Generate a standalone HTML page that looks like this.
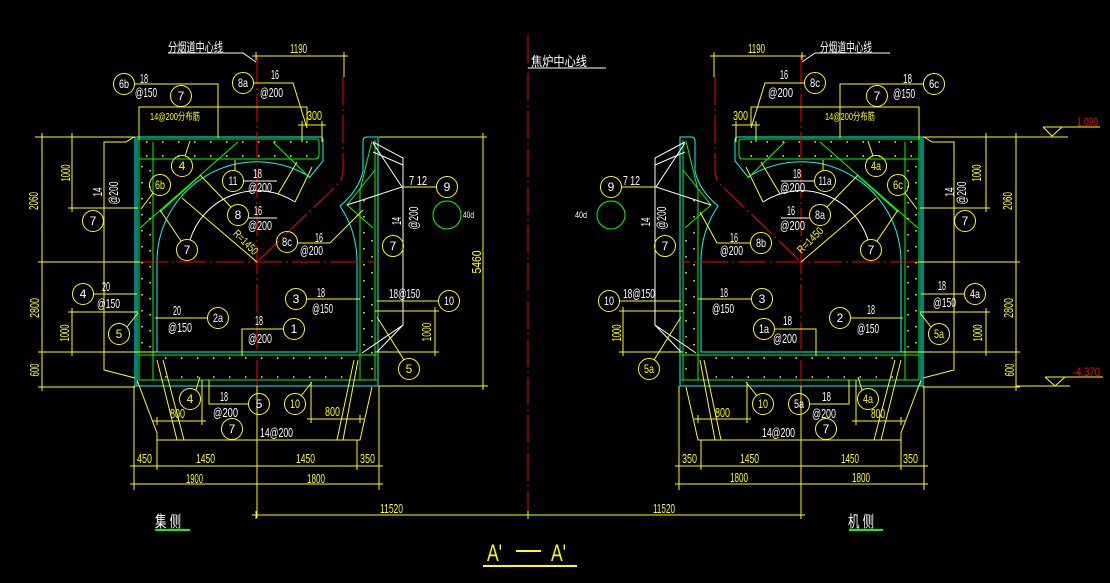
<!DOCTYPE html>
<html><head><meta charset="utf-8">
<style>
html,body{margin:0;padding:0;background:#000;}
svg{display:block}
text{font-family:"Liberation Sans","Noto Sans CJK SC",sans-serif;font-size:13px;}
.w{fill:#fff}.y{fill:#ff0}.r{fill:#f00}
.c{font-size:12px;text-anchor:middle}
</style></head><body>
<svg width="1110" height="583" viewBox="0 0 1110 583" xmlns="http://www.w3.org/2000/svg">
<rect width="1110" height="583" fill="#000"/>

<g id="L" fill="none" stroke-width="1">
  <!-- cyan concrete outline -->
  <path stroke="#0ff" d="M135,386 L135,137 L320,137 Q323,137 323,140 L323,161 L310,177 A100,100 0 0 0 157,262 L157,352 L357,352 L357,262 A100,100 0 0 0 340,206 Q359,190 363,171 L363,141 Q363,137 367,137 L378,137 L378,386 Z"/>
  <path stroke="#0ff" d="M137,138 L137,386"/>
  <!-- green rebars -->
  <path stroke="#0f0" d="M139,380 L139,139 L316,139 Q319,139 319,142 L319,155 Q319,159 315,159 L139,159 M153,142 L153,380 M139,355 L377,355 M139,380 L377,380 M375,140 L375,380 M360,190 L360,380 M372,141 L360,190 M375,170 L347,205 L373,228 M140,228 L238,142 M273,142 L310,178 M160,212 L200,176"/>
  <circle cx="447" cy="215" r="14" stroke="#0f0"/>
  <!-- white -->
  <path stroke="#fff" d="M190,240 A70,70 0 0 1 295,202 M373,142 L403,158 L403,325 L362,353 M403,325 L377,352 M373,143 L402,187 L347,205 M373,152 L403,165 M168,53 L243,53 L256,62"/>
  <!-- red centre lines -->
  <path stroke="#f00" stroke-dasharray="28 4 2 4" d="M257,56 L257,388 M140,262 L378,262 M343,77 L343,170 Q343,180 336,186 L257,262"/>
  <!-- yellow lines -->
  <path stroke="#ff0" d="
M257,56 L344,56 M344,52 L344,77
M139,140 L139,107 L307,107 L307,125
M134.5,84 L218,84 L218,138
M253.5,83 L293,83 L307,128
M300,125 L324,125 M302,121 L302,142 M322,121 L322,142
M185,156 L190,141
M235,170.5 L235,160
M153,193 L141,209
M231,207 L200,175
M181,241 L160,210
M257,262 L182,198
M278,194 L297,162 M295,202 L312,167
M42,137 L42,387 M35,137 L135,137 M38,262 L140,262 M38,352 L157,352 M38,387 L135,387
M72,137 L72,208 M68,208 L138,208 M72,312 L72,352 M68,312 L138,312
M134,137 L126,142 L104,142 L104,370 L135,378
M93.5,294 L137,294
M127,327 L138,313
M155,318 L207.5,318
M283.5,329 L242,329 L242,356
M306.5,299 L360,299
M196,390 L200,377
M248.5,404 L209,404 L209,380
M301,396 L312,382
M157,421 L202,421 M202,380 L202,424
M311,419 L360,419 M311,382 L311,422
M137,380 L157,433 L157,440 L360,440 L372,387
M157,360 L177,440 M163,360 L184,440 M354,360 L337,440 M358,360 L343,440
M257,386 L257,518
M134,466 L379,466 M134,484 L379,484 M134,386 L134,490 M157,440 L157,470 M357,440 L357,470 M379,386 L379,490
M377,301 L438.5,301
M375,311 L438,311 M375,352 L438,352 M435,311 L435,352
M404,360 L377,317
M403,187 L436.5,187
M252,56h8M256,52v8 M340,56h8M344,52v8
M298,125h8M302,121v8 M318,125h8M322,121v8
M130,466h8M134,462v8 M153,466h8M157,462v8 M253,466h8M257,462v8 M353,466h8M357,462v8 M375,466h8M379,462v8
M130,484h8M134,480v8 M253,484h8M257,480v8 M375,484h8M379,480v8
M153,421h8M157,417v8 M198,421h8M202,417v8
M307,419h8M311,415v8 M356,419h8M360,415v8
M38,137h8M42,133v8 M38,262h8M42,258v8 M38,352h8M42,348v8 M38,387h8M42,383v8
M68,137h8M72,133v8 M68,208h8M72,204v8 M68,312h8M72,308v8 M68,352h8M72,348v8
M431,311h8M435,307v8 M431,352h8M435,348v8"/>
  <!-- distribution bar dots -->
  <path stroke="#ff0" stroke-width="1.5" stroke-dasharray="1.5 14.5" d="M146,142 L316,142 M146,156 L316,156 M142,166 L142,350 M150,170 L150,350 M165,358 L355,358 M165,377 L355,377 M364,200 L364,350 M372,240 L372,375"/>
  <!-- bubbles -->
  <g stroke="#ff0">
    <circle cx="124" cy="84" r="10.5"/><circle cx="181" cy="96" r="10.5"/><circle cx="243" cy="83" r="10.5"/>
    <circle cx="182" cy="166" r="10.5"/><circle cx="233" cy="181" r="10.5"/><circle cx="160" cy="185" r="10.5"/>
    <circle cx="238" cy="215" r="10.5"/><circle cx="187" cy="250" r="10.5"/><circle cx="93" cy="221" r="10.5"/>
    <circle cx="447" cy="187" r="10.5"/><circle cx="393" cy="246" r="10.5"/><circle cx="83" cy="294" r="10.5"/>
    <circle cx="119" cy="334" r="10.5"/><circle cx="218" cy="318" r="10.5"/><circle cx="296" cy="299" r="10.5"/>
    <circle cx="294" cy="329" r="10.5"/><circle cx="449" cy="301" r="10.5"/><circle cx="409" cy="369" r="10.5"/>
    <circle cx="190" cy="399" r="10.5"/><circle cx="259" cy="404" r="10.5"/><circle cx="295" cy="404" r="10.5"/>
    <circle cx="232" cy="429" r="10.5"/>
  </g>
  <path stroke="#fff" d="M243.5,181 L277,181 M248.5,218 L277,218"/>
</g>
<use href="#L" transform="matrix(-1 0 0 1 1058 0)"/>

<!-- non mirrored geometry -->
<g fill="none" stroke-width="1">
  <path stroke="#f00" stroke-dasharray="28 4 2 4" d="M528,35 L528,520"/>
  <path stroke="#fff" d="M528,68 L606,68"/>
  <path stroke="#ff0" d="M379,137 L486,137 M379,386 L488,386 M483,137 L483,386 M479,137h8M483,133v8 M479,386h8M483,382v8
  M256,515 L801,515 M252,515h8M256,511v8 M524,515h8M528,511v8 M797,515h8M801,511v8
  M297.5,243 L330,243 L363,210 M750.5,243 L717,243 L700,212
  M1043,127 L1100,127 M1043,127 L1052,136 L1062,127 M1016,137 L1068,137
  M1045,377 L1103,377 M1045,377 L1055,386 L1065,377 M1016,386 L1070,386"/>
  <circle cx="287" cy="242" r="10.5" stroke="#ff0"/>
  <circle cx="761" cy="243" r="10.5" stroke="#ff0"/>
  <path stroke="#0f0" stroke-width="2" d="M155,530 L190,530 M849,530 L883,530"/>
  <path stroke="#ff0" stroke-width="2" d="M483,566 L577,566 M516,551 L541,551"/>
</g>

<!-- ===== LEFT TEXT ===== -->
<text class="w" x="168" y="52" textLength="55" lengthAdjust="spacingAndGlyphs">分烟道中心线</text>
<text class="y" x="290" y="53" textLength="17" lengthAdjust="spacingAndGlyphs">1190</text>
<text class="w" x="140" y="83" textLength="8" lengthAdjust="spacingAndGlyphs">18</text>
<text class="w" x="135" y="97" textLength="22" lengthAdjust="spacingAndGlyphs">@150</text>
<text class="w" x="271" y="79" textLength="8" lengthAdjust="spacingAndGlyphs">16</text>
<text class="w" x="260" y="97" textLength="23" lengthAdjust="spacingAndGlyphs">@200</text>
<text class="y" x="150" y="120" textLength="50" lengthAdjust="spacingAndGlyphs" style="font-size:10px">14@200分布筋</text>
<text class="y" x="307" y="120" textLength="15" lengthAdjust="spacingAndGlyphs">300</text>
<text class="w" x="253" y="178" textLength="9" lengthAdjust="spacingAndGlyphs">18</text>
<text class="w" x="248" y="192" textLength="24" lengthAdjust="spacingAndGlyphs">@200</text>
<text class="w" x="254" y="215" textLength="8" lengthAdjust="spacingAndGlyphs">16</text>
<text class="w" x="248" y="230" textLength="24" lengthAdjust="spacingAndGlyphs">@200</text>
<text class="w" x="315" y="242" textLength="8" lengthAdjust="spacingAndGlyphs">16</text>
<text class="w" x="300" y="255" textLength="23" lengthAdjust="spacingAndGlyphs">@200</text>
<text class="y" x="246" y="246" text-anchor="middle" textLength="30" lengthAdjust="spacingAndGlyphs" transform="rotate(45 246 242)" style="font-size:11px">R=1450</text>
<text class="y" x="66" y="177" text-anchor="middle" textLength="17" lengthAdjust="spacingAndGlyphs" transform="rotate(-90 66 173)">1000</text>
<text class="y" x="34" y="205" text-anchor="middle" textLength="18" lengthAdjust="spacingAndGlyphs" transform="rotate(-90 34 201)">2060</text>
<text class="w" x="98" y="196" text-anchor="middle" textLength="9" lengthAdjust="spacingAndGlyphs" transform="rotate(-90 98 192)">14</text>
<text class="w" x="114" y="197" text-anchor="middle" textLength="23" lengthAdjust="spacingAndGlyphs" transform="rotate(-90 114 193)">@200</text>
<text class="w" x="102" y="291" textLength="8" lengthAdjust="spacingAndGlyphs">20</text>
<text class="w" x="97" y="308" textLength="23" lengthAdjust="spacingAndGlyphs">@150</text>
<text class="y" x="35" y="312" text-anchor="middle" textLength="20" lengthAdjust="spacingAndGlyphs" transform="rotate(-90 35 308)">2800</text>
<text class="y" x="65" y="337" text-anchor="middle" textLength="17" lengthAdjust="spacingAndGlyphs" transform="rotate(-90 65 333)">1000</text>
<text class="y" x="35" y="374" text-anchor="middle" textLength="13" lengthAdjust="spacingAndGlyphs" transform="rotate(-90 35 370)">600</text>
<text class="w" x="173" y="315" textLength="8" lengthAdjust="spacingAndGlyphs">20</text>
<text class="w" x="168" y="332" textLength="24" lengthAdjust="spacingAndGlyphs">@150</text>
<text class="w" x="255" y="325" textLength="8" lengthAdjust="spacingAndGlyphs">18</text>
<text class="w" x="248" y="343" textLength="24" lengthAdjust="spacingAndGlyphs">@200</text>
<text class="w" x="317" y="297" textLength="8" lengthAdjust="spacingAndGlyphs">18</text>
<text class="w" x="312" y="313" textLength="21" lengthAdjust="spacingAndGlyphs">@150</text>
<text class="y" x="170" y="418" textLength="15" lengthAdjust="spacingAndGlyphs">800</text>
<text class="w" x="220" y="401" textLength="8" lengthAdjust="spacingAndGlyphs">18</text>
<text class="w" x="213" y="417" textLength="25" lengthAdjust="spacingAndGlyphs">@200</text>
<text class="w" x="260" y="437" textLength="33" lengthAdjust="spacingAndGlyphs">14@200</text>
<text class="y" x="325" y="416" textLength="15" lengthAdjust="spacingAndGlyphs">800</text>
<text class="y" x="137" y="463" textLength="15" lengthAdjust="spacingAndGlyphs">450</text>
<text class="y" x="196" y="463" textLength="19" lengthAdjust="spacingAndGlyphs">1450</text>
<text class="y" x="296" y="463" textLength="19" lengthAdjust="spacingAndGlyphs">1450</text>
<text class="y" x="360" y="463" textLength="15" lengthAdjust="spacingAndGlyphs">350</text>
<text class="y" x="186" y="483" textLength="17" lengthAdjust="spacingAndGlyphs">1900</text>
<text class="y" x="307" y="483" textLength="18" lengthAdjust="spacingAndGlyphs">1800</text>
<text class="y" x="477" y="266" text-anchor="middle" textLength="23" lengthAdjust="spacingAndGlyphs" transform="rotate(-90 477 262)">5460</text>
<text class="y" x="427" y="336" text-anchor="middle" textLength="19" lengthAdjust="spacingAndGlyphs" transform="rotate(-90 427 332)">1000</text>
<text class="w" x="389" y="298" textLength="31" lengthAdjust="spacingAndGlyphs">18@150</text>
<text class="w" x="409" y="185" textLength="18" lengthAdjust="spacingAndGlyphs">7 12</text>
<text class="w" x="397" y="225" text-anchor="middle" textLength="8" lengthAdjust="spacingAndGlyphs" transform="rotate(-90 397 221)">14</text>
<text class="w" x="414" y="222" text-anchor="middle" textLength="23" lengthAdjust="spacingAndGlyphs" transform="rotate(-90 414 218)">@200</text>
<text class="w" x="463" y="218" textLength="11" lengthAdjust="spacingAndGlyphs" style="font-size:9px">40d</text>
<text class="y" x="380" y="513" textLength="23" lengthAdjust="spacingAndGlyphs">11520</text>
<text class="y" x="653" y="513" textLength="22" lengthAdjust="spacingAndGlyphs">11520</text>
<text class="w" x="155" y="527" textLength="26" lengthAdjust="spacingAndGlyphs" style="font-size:16px">集 侧</text>
<text class="w" x="531" y="66" textLength="56" lengthAdjust="spacingAndGlyphs">焦炉中心线</text>
<text class="y" x="487" y="561" textLength="15" lengthAdjust="spacingAndGlyphs" style="font-size:24px">A'</text>
<text class="y" x="551" y="561" textLength="15" lengthAdjust="spacingAndGlyphs" style="font-size:24px">A'</text>

<!-- left bubble labels -->
<text class="w c" x="124" y="88" textLength="10" lengthAdjust="spacingAndGlyphs">6b</text>
<text class="w c" x="181" y="100">7</text>
<text class="w c" x="243" y="87" textLength="10" lengthAdjust="spacingAndGlyphs">8a</text>
<text class="y c" x="182" y="170">4</text>
<text class="w c" x="233" y="185" textLength="9" lengthAdjust="spacingAndGlyphs">11</text>
<text class="y c" x="160" y="189" textLength="10" lengthAdjust="spacingAndGlyphs">6b</text>
<text class="w c" x="238" y="219">8</text>
<text class="w c" x="187" y="254">7</text>
<text class="w c" x="287" y="246" textLength="10" lengthAdjust="spacingAndGlyphs">8c</text>
<text class="w c" x="93" y="225">7</text>
<text class="w c" x="447" y="191">9</text>
<text class="w c" x="393" y="250">7</text>
<text class="w c" x="83" y="298">4</text>
<text class="y c" x="119" y="338">5</text>
<text class="w c" x="218" y="322" textLength="10" lengthAdjust="spacingAndGlyphs">2a</text>
<text class="w c" x="296" y="303">3</text>
<text class="w c" x="294" y="333">1</text>
<text class="w c" x="449" y="305" textLength="10" lengthAdjust="spacingAndGlyphs">10</text>
<text class="y c" x="409" y="373">5</text>
<text class="y c" x="190" y="403">4</text>
<text class="w c" x="259" y="408">5</text>
<text class="y c" x="295" y="408" textLength="10" lengthAdjust="spacingAndGlyphs">10</text>
<text class="w c" x="232" y="433">7</text>

<!-- ===== RIGHT TEXT ===== -->
<text class="w" x="820" y="52" textLength="52" lengthAdjust="spacingAndGlyphs">分烟道中心线</text>
<text class="y" x="748" y="53" textLength="17" lengthAdjust="spacingAndGlyphs">1190</text>
<text class="w" x="780" y="79" textLength="8" lengthAdjust="spacingAndGlyphs">16</text>
<text class="w" x="768" y="97" textLength="25" lengthAdjust="spacingAndGlyphs">@200</text>
<text class="y" x="733" y="120" textLength="15" lengthAdjust="spacingAndGlyphs">300</text>
<text class="y" x="825" y="120" textLength="50" lengthAdjust="spacingAndGlyphs" style="font-size:10px">14@200分布筋</text>
<text class="w" x="903" y="83" textLength="9" lengthAdjust="spacingAndGlyphs">18</text>
<text class="w" x="893" y="98" textLength="22" lengthAdjust="spacingAndGlyphs">@150</text>
<text class="w" x="623" y="185" textLength="17" lengthAdjust="spacingAndGlyphs">7 12</text>
<text class="w" x="575" y="218" textLength="12" lengthAdjust="spacingAndGlyphs" style="font-size:9px">40d</text>
<text class="w" x="646" y="226" text-anchor="middle" textLength="9" lengthAdjust="spacingAndGlyphs" transform="rotate(-90 646 222)">14</text>
<text class="w" x="662" y="222" text-anchor="middle" textLength="23" lengthAdjust="spacingAndGlyphs" transform="rotate(-90 662 218)">@200</text>
<text class="w" x="730" y="242" textLength="8" lengthAdjust="spacingAndGlyphs">16</text>
<text class="w" x="720" y="255" textLength="23" lengthAdjust="spacingAndGlyphs">@200</text>
<text class="w" x="793" y="178" textLength="8" lengthAdjust="spacingAndGlyphs">18</text>
<text class="w" x="780" y="192" textLength="25" lengthAdjust="spacingAndGlyphs">@200</text>
<text class="w" x="787" y="215" textLength="8" lengthAdjust="spacingAndGlyphs">16</text>
<text class="w" x="780" y="230" textLength="25" lengthAdjust="spacingAndGlyphs">@200</text>
<text class="y" x="810" y="244" text-anchor="middle" textLength="32" lengthAdjust="spacingAndGlyphs" transform="rotate(-45 810 240)" style="font-size:11px">R=1450</text>
<text class="y" x="977" y="177" text-anchor="middle" textLength="17" lengthAdjust="spacingAndGlyphs" transform="rotate(-90 977 173)">1000</text>
<text class="y" x="1008" y="205" text-anchor="middle" textLength="18" lengthAdjust="spacingAndGlyphs" transform="rotate(-90 1008 201)">2060</text>
<text class="w" x="950" y="196" text-anchor="middle" textLength="9" lengthAdjust="spacingAndGlyphs" transform="rotate(-90 950 192)">14</text>
<text class="w" x="962" y="197" text-anchor="middle" textLength="23" lengthAdjust="spacingAndGlyphs" transform="rotate(-90 962 193)">@200</text>
<text class="w" x="623" y="298" textLength="32" lengthAdjust="spacingAndGlyphs">18@150</text>
<text class="w" x="720" y="297" textLength="8" lengthAdjust="spacingAndGlyphs">18</text>
<text class="w" x="712" y="313" textLength="22" lengthAdjust="spacingAndGlyphs">@150</text>
<text class="w" x="783" y="325" textLength="9" lengthAdjust="spacingAndGlyphs">18</text>
<text class="w" x="773" y="343" textLength="24" lengthAdjust="spacingAndGlyphs">@200</text>
<text class="y" x="617" y="337" text-anchor="middle" textLength="17" lengthAdjust="spacingAndGlyphs" transform="rotate(-90 617 333)">1000</text>
<text class="w" x="867" y="314" textLength="8" lengthAdjust="spacingAndGlyphs">18</text>
<text class="w" x="857" y="333" textLength="22" lengthAdjust="spacingAndGlyphs">@150</text>
<text class="w" x="938" y="290" textLength="8" lengthAdjust="spacingAndGlyphs">18</text>
<text class="w" x="933" y="307" textLength="23" lengthAdjust="spacingAndGlyphs">@150</text>
<text class="y" x="1009" y="312" text-anchor="middle" textLength="20" lengthAdjust="spacingAndGlyphs" transform="rotate(-90 1009 308)">2800</text>
<text class="y" x="978" y="337" text-anchor="middle" textLength="17" lengthAdjust="spacingAndGlyphs" transform="rotate(-90 978 333)">1000</text>
<text class="y" x="1010" y="374" text-anchor="middle" textLength="13" lengthAdjust="spacingAndGlyphs" transform="rotate(-90 1010 370)">600</text>
<text class="y" x="715" y="417" textLength="15" lengthAdjust="spacingAndGlyphs">800</text>
<text class="w" x="822" y="401" textLength="9" lengthAdjust="spacingAndGlyphs">18</text>
<text class="w" x="812" y="418" textLength="24" lengthAdjust="spacingAndGlyphs">@200</text>
<text class="w" x="762" y="437" textLength="33" lengthAdjust="spacingAndGlyphs">14@200</text>
<text class="y" x="871" y="418" textLength="14" lengthAdjust="spacingAndGlyphs">800</text>
<text class="y" x="682" y="463" textLength="15" lengthAdjust="spacingAndGlyphs">350</text>
<text class="y" x="740" y="463" textLength="19" lengthAdjust="spacingAndGlyphs">1450</text>
<text class="y" x="841" y="463" textLength="18" lengthAdjust="spacingAndGlyphs">1450</text>
<text class="y" x="903" y="463" textLength="15" lengthAdjust="spacingAndGlyphs">350</text>
<text class="y" x="730" y="482" textLength="18" lengthAdjust="spacingAndGlyphs">1800</text>
<text class="y" x="852" y="482" textLength="18" lengthAdjust="spacingAndGlyphs">1800</text>
<text class="w" x="848" y="527" textLength="26" lengthAdjust="spacingAndGlyphs" style="font-size:16px">机 侧</text>
<text class="r" x="1077" y="126" textLength="21" lengthAdjust="spacingAndGlyphs" style="font-size:12px">1.090</text>
<text class="r" x="1073" y="376" textLength="27" lengthAdjust="spacingAndGlyphs" style="font-size:12px">-4.370</text>

<!-- right bubble labels -->
<text class="w c" x="934" y="88" textLength="10" lengthAdjust="spacingAndGlyphs">6c</text>
<text class="w c" x="877" y="100">7</text>
<text class="w c" x="815" y="87" textLength="10" lengthAdjust="spacingAndGlyphs">8c</text>
<text class="y c" x="876" y="170" textLength="10" lengthAdjust="spacingAndGlyphs">4a</text>
<text class="w c" x="825" y="185" textLength="13" lengthAdjust="spacingAndGlyphs">11a</text>
<text class="y c" x="898" y="189" textLength="10" lengthAdjust="spacingAndGlyphs">6c</text>
<text class="w c" x="820" y="219" textLength="10" lengthAdjust="spacingAndGlyphs">8a</text>
<text class="w c" x="871" y="254">7</text>
<text class="w c" x="761" y="247" textLength="10" lengthAdjust="spacingAndGlyphs">8b</text>
<text class="w c" x="965" y="225">7</text>
<text class="w c" x="611" y="191">9</text>
<text class="w c" x="665" y="250">7</text>
<text class="w c" x="975" y="298" textLength="10" lengthAdjust="spacingAndGlyphs">4a</text>
<text class="y c" x="939" y="338" textLength="10" lengthAdjust="spacingAndGlyphs">5a</text>
<text class="w c" x="840" y="322">2</text>
<text class="w c" x="762" y="303">3</text>
<text class="w c" x="764" y="333" textLength="10" lengthAdjust="spacingAndGlyphs">1a</text>
<text class="w c" x="609" y="305" textLength="10" lengthAdjust="spacingAndGlyphs">10</text>
<text class="y c" x="649" y="373" textLength="10" lengthAdjust="spacingAndGlyphs">5a</text>
<text class="y c" x="868" y="403" textLength="10" lengthAdjust="spacingAndGlyphs">4a</text>
<text class="w c" x="799" y="408" textLength="10" lengthAdjust="spacingAndGlyphs">5a</text>
<text class="y c" x="763" y="408" textLength="10" lengthAdjust="spacingAndGlyphs">10</text>
<text class="w c" x="826" y="433">7</text>
</svg>
</body></html>
